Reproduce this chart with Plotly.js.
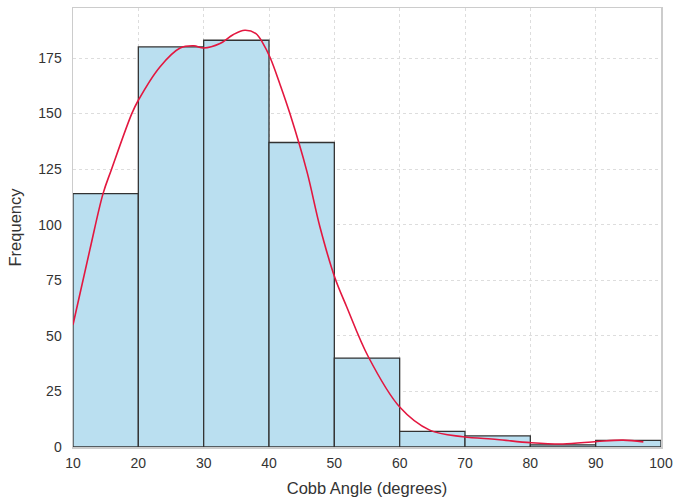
<!DOCTYPE html>
<html>
<head>
<meta charset="utf-8">
<script src="https://cdn.plot.ly/plotly-3.0.1.min.js"></script>
<style>html,body{margin:0;padding:0;background:#fff;}#chart{width:675px;height:503px;}</style>
</head>
<body>
<div id="chart"></div>
<script>
// Histogram bins (Cobb angle, degrees)
const binStarts = [10, 20, 30, 40, 50, 60, 70, 80, 90];
const binWidth = 10;
const counts = [114, 180, 183, 137, 40, 7, 5, 1, 3];

// KDE curve
const kdeX = [10, 12.6, 14.6, 15.9, 19.0, 20, 23.3, 26.4, 28.5, 30, 32.5, 34.5, 36.3, 38, 39.1, 40.2, 41.7, 43.2, 45.8, 47.8, 50.1, 51.9, 55.2, 60, 64.6, 69.7, 74.9, 80, 85, 90.2, 94.2, 97.3];
const kdeY = [55, 89, 114, 125, 150, 156, 171, 179.5, 180.5, 179.5, 181.5, 185.5, 187.5, 186, 181.5, 175, 163, 150, 124, 99, 76, 63, 40.6, 18, 7.6, 4.6, 3.4, 1.95, 1.35, 2.5, 3.1, 2.3];

const xTicks = [10, 20, 30, 40, 50, 60, 70, 80, 90, 100];
const yTicks = [0, 25, 50, 75, 100, 125, 150, 175];

const barX = binStarts.map(s => s + binWidth / 2);

const traces = [
  {
    type: 'bar',
    x: barX,
    y: counts,
    width: binWidth,
    marker: {color: 'rgb(186,223,240)', line: {color: '#333333', width: 1.3}},
    hoverinfo: 'x+y',
    showlegend: false
  },
  {
    type: 'scatter',
    mode: 'lines',
    x: kdeX,
    y: kdeY,
    line: {color: '#e3173f', width: 1.6, shape: 'spline', smoothing: 1.0},
    showlegend: false
  }
];

const layout = {
  width: 675,
  height: 503,
  paper_bgcolor: '#ffffff',
  plot_bgcolor: '#ffffff',
  margin: {l: 73, r: 14, t: 8, b: 56},
  font: {family: 'Liberation Sans, Arial, sans-serif', color: '#333333', size: 14},
  bargap: 0,
  xaxis: {
    range: [10, 100],
    tickvals: xTicks,
    ticktext: xTicks.map(String),
    showgrid: true,
    gridcolor: '#dddddd',
    griddash: 'dot',
    gridwidth: 1,
    showline: true,
    linecolor: '#cccccc',
    linewidth: 1.5,
    mirror: true,
    zeroline: false,
    ticks: '',
    ticklabelstandoff: 3,
    tickfont: {size: 14, color: '#333333'},
    title: {text: 'Cobb Angle (degrees)', font: {size: 16.5, color: '#333333'}, standoff: 12}
  },
  yaxis: {
    range: [0, 197.5],
    tickvals: yTicks,
    ticktext: yTicks.map(String),
    showgrid: true,
    gridcolor: '#dddddd',
    griddash: 'dot',
    gridwidth: 1,
    showline: true,
    linecolor: '#cccccc',
    linewidth: 1.5,
    mirror: true,
    zeroline: false,
    ticks: '',
    ticklabelstandoff: 7,
    tickfont: {size: 14, color: '#333333'},
    title: {text: 'Frequency', font: {size: 16.5, color: '#333333'}, standoff: 12}
  }
};

Plotly.newPlot('chart', traces, layout, {displayModeBar: false, staticPlot: true});
</script>
</body>
</html>
